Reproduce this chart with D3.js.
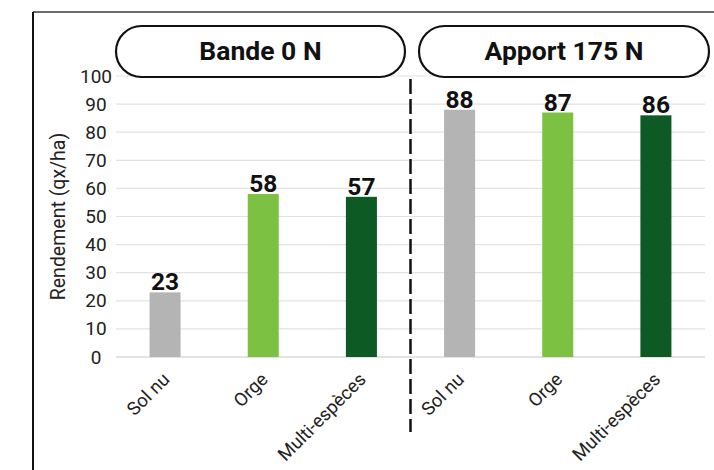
<!DOCTYPE html>
<html>
<head>
<meta charset="utf-8">
<script src="https://cdn.jsdelivr.net/npm/d3@7"></script>
<style>
  html, body { margin: 0; padding: 0; background: #fff; }
  svg { display: block; font-family: Roboto, "Noto Sans", sans-serif; }
</style>
</head>
<body>
<svg id="chart" width="714" height="470"></svg>
<script>
// Yield (qx/ha) by cover type, for the unfertilised strip and the 175 N application
const groups = ["Bande 0 N", "Apport 175 N"];
const categories = ["Sol nu", "Orge", "Multi-espèces"];
const valuesBande0 = [23, 58, 57];
const valuesApport175 = [88, 87, 86];
const colors = ["#b4b4b4", "#7cc142", "#0e5a24"];
const yTicks = [0, 10, 20, 30, 40, 50, 60, 70, 80, 90, 100];

const rows = [];
[valuesBande0, valuesApport175].forEach((vals, gi) => {
  vals.forEach((v, ci) => rows.push({ key: gi + "-" + ci, group: gi, cat: ci, value: v }));
});

const svg = d3.select("#chart");
const plotLeft = 116, plotRight = 705, plotTop = 76, plotBottom = 357;

const x = d3.scaleBand()
  .domain(rows.map(d => d.key))
  .range([plotLeft, plotRight])
  .paddingInner(0.684)
  .paddingOuter(0.342);

const y = d3.scaleLinear().domain([0, 100]).range([plotBottom, plotTop]);

// outer frame (top and left edges)
svg.append("line").attr("x1", 33).attr("x2", 714).attr("y1", 12).attr("y2", 12)
  .attr("stroke", "#6b6b6b").attr("stroke-width", 2);
svg.append("line").attr("x1", 33).attr("x2", 33).attr("y1", 12).attr("y2", 470)
  .attr("stroke", "#111").attr("stroke-width", 2);

// gridlines
svg.append("g").selectAll("line").data(yTicks).join("line")
  .attr("x1", plotLeft).attr("x2", plotRight)
  .attr("y1", d => y(d)).attr("y2", d => y(d))
  .attr("stroke", d => d === 0 ? "#c8c8c8" : "#e2e2e2")
  .attr("stroke-width", 1.2);

// y axis labels, centred in their column
const yAxis = d3.axisLeft(y).tickValues(yTicks).tickSize(0).tickPadding(0);
const gy = svg.append("g").attr("transform", "translate(96,0)").call(yAxis);
gy.select(".domain").remove();
gy.selectAll("text").attr("font-size", 19).attr("fill", "#222")
  .attr("text-anchor", "middle")
  .attr("font-family", "Roboto, sans-serif");

svg.append("text")
  .attr("transform", "translate(65," + ((plotTop + plotBottom) / 2) + ") rotate(-90)")
  .attr("text-anchor", "middle")
  .attr("font-size", 19.5).attr("fill", "#222")
  .text("Rendement (qx/ha)");

// bars
svg.append("g").selectAll("rect").data(rows).join("rect")
  .attr("x", d => x(d.key))
  .attr("width", x.bandwidth())
  .attr("y", d => y(d.value))
  .attr("height", d => y(0) - y(d.value))
  .attr("fill", d => colors[d.cat]);

// value labels
svg.append("g").selectAll("text").data(rows).join("text")
  .attr("x", d => x(d.key) + x.bandwidth() / 2)
  .attr("y", d => y(d.value) - 2)
  .attr("text-anchor", "middle")
  .attr("font-size", 24.5).attr("font-weight", 700).attr("fill", "#111")
  .text(d => d.value);

// category labels, rotated
svg.append("g").selectAll("text").data(rows).join("text")
  .attr("transform", d => "translate(" + (x(d.key) + x.bandwidth() / 2 + 1) + "," + (plotBottom + 19) + ") rotate(-45)")
  .attr("text-anchor", "end")
  .attr("dy", "0.35em")
  .attr("font-size", 18.5).attr("fill", "#222")
  .text(d => categories[d.cat]);

// dashed separator between the two groups
const sepX = (x("0-2") + x.bandwidth() + x("1-0")) / 2;
svg.append("line")
  .attr("x1", sepX).attr("x2", sepX)
  .attr("y1", 79).attr("y2", 432)
  .attr("stroke", "#111").attr("stroke-width", 2.5)
  .attr("stroke-dasharray", "15,5");

// group header pills
const pills = [
  { label: groups[0], x0: 116, x1: 405 },
  { label: groups[1], x0: 419, x1: 709 }
];
const pg = svg.append("g").selectAll("g").data(pills).join("g");
pg.append("rect")
  .attr("x", d => d.x0).attr("y", 26)
  .attr("width", d => d.x1 - d.x0).attr("height", 51)
  .attr("rx", 25.5).attr("ry", 25.5)
  .attr("fill", "#fff").attr("stroke", "#111").attr("stroke-width", 2.2);
pg.append("text")
  .attr("x", d => (d.x0 + d.x1) / 2).attr("y", 60)
  .attr("text-anchor", "middle")
  .attr("font-size", 26.5).attr("font-weight", 700).attr("fill", "#111")
  .text(d => d.label);
</script>
</body>
</html>
